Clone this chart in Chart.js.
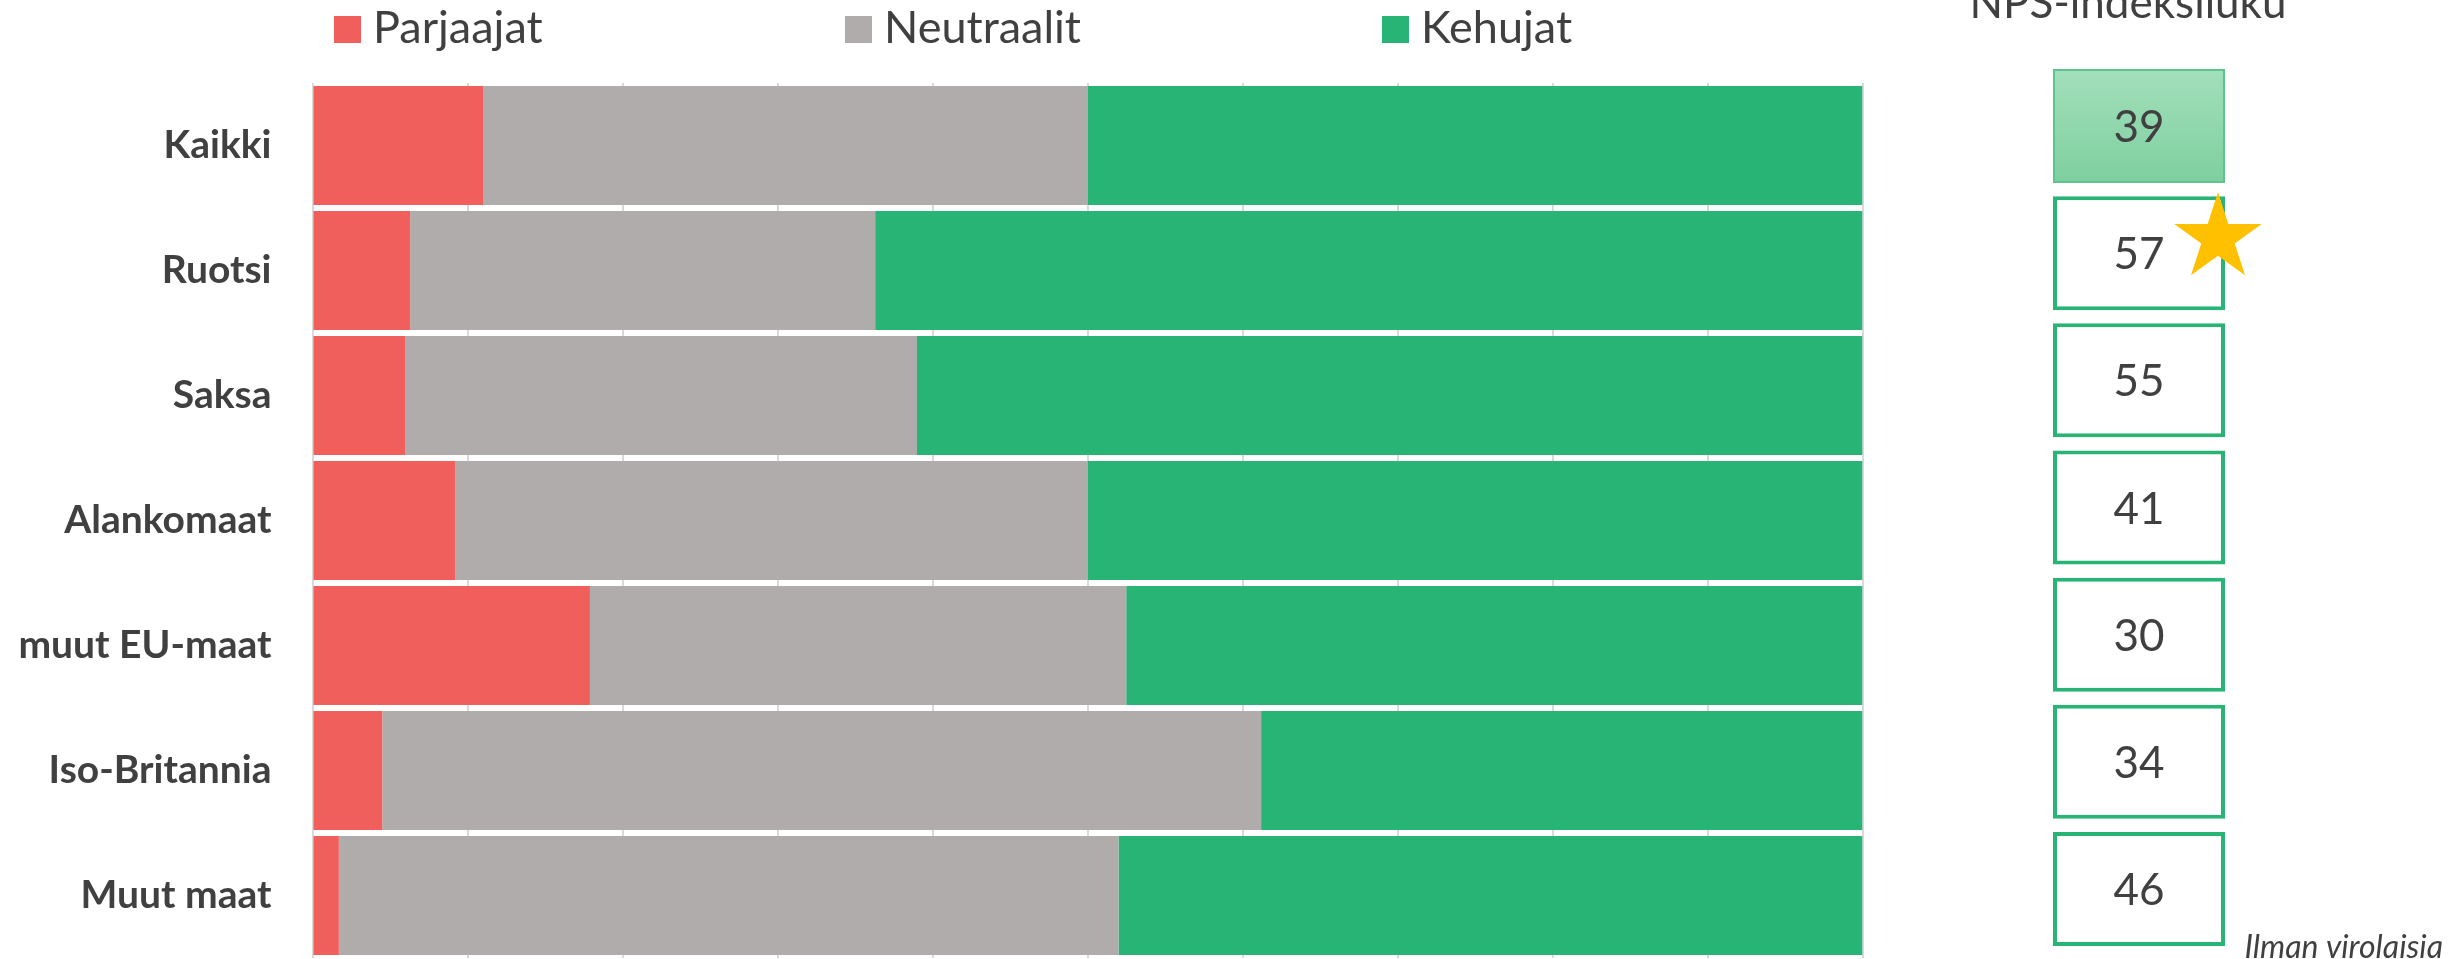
<!DOCTYPE html>
<html lang="fi">
<head>
<meta charset="utf-8">
<title>NPS maittain</title>
<script src="https://cdn.jsdelivr.net/npm/chart.js@4.4.0/dist/chart.umd.min.js"></script>
<style>
    html, body { margin: 0; padding: 0; background: #ffffff; }
    .wrap { display: flex; width: 2450px; height: 959px; }
    #barsBox { position: relative; width: 1900px; height: 959px; }
    #npsBox { position: relative; width: 550px; height: 959px; }
</style>
</head>
<body>
<div class="wrap">
    <div id="barsBox"><canvas id="barsChart"></canvas></div>
    <div id="npsBox"><canvas id="npsChart"></canvas></div>
</div>
<script>
// Vastaajaryhmät ja jakaumat (%)
const categories = ['Kaikki', 'Ruotsi', 'Saksa', 'Alankomaat', 'muut EU-maat', 'Iso-Britannia', 'Muut maat'];
const parjaajat = [11, 6.3, 6, 9.2, 17.9, 4.5, 1.7];
const neutraalit = [39, 30, 33, 40.8, 34.6, 56.7, 50.3];
const kehujat = [50, 63.7, 61, 50, 47.5, 38.8, 48];
const npsValues = [39, 57, 55, 41, 30, 34, 46];
const xTicks = [0, 10, 20, 30, 40, 50, 60, 70, 80, 90, 100];

const TEXT_COLOR = '#404040';
const FONT = 'Lato, "Open Sans", sans-serif';

// Legend drawn along the top, each item at its own x
const topLegend = {
    id: 'topLegend',
    afterDraw(chart, args, opts) {
        const ctx = chart.ctx;
        ctx.save();
        ctx.font = '45px ' + FONT;
        ctx.textBaseline = 'alphabetic';
        ctx.textAlign = 'left';
        chart.data.datasets.forEach((ds, i) => {
            const x = opts.starts[i];
            ctx.fillStyle = ds.backgroundColor;
            ctx.fillRect(x, 16, 27, 27);
            ctx.fillStyle = TEXT_COLOR;
            ctx.fillText(ds.label, x + 39, 43);
        });
        ctx.restore();
    }
};

const barsChart = new Chart(document.getElementById('barsChart'), {
    type: 'bar',
    data: {
        labels: categories,
        datasets: [
            { label: 'Parjaajat', data: parjaajat, backgroundColor: '#F15F5C' },
            { label: 'Neutraalit', data: neutraalit, backgroundColor: '#B0ACAB' },
            { label: 'Kehujat', data: kehujat, backgroundColor: '#27B475' }
        ]
    },
    options: {
        indexAxis: 'y',
        responsive: true,
        maintainAspectRatio: false,
        animation: false,
        layout: { padding: { top: 83, bottom: 1, left: 0, right: 37.5 } },
        datasets: {
            bar: { barPercentage: 0.952, categoryPercentage: 1, borderWidth: 0 }
        },
        plugins: {
            legend: { display: false },
            tooltip: { enabled: false },
            topLegend: { starts: [334, 845, 1382] }
        },
        scales: {
            x: {
                stacked: true,
                min: 0,
                max: 100,
                afterBuildTicks: (scale) => {
                    scale.ticks = xTicks.map(v => ({ value: v }));
                },
                afterFit: (scale) => {
                    scale.height = 0;
                    scale.paddingLeft = 0;
                    scale.paddingRight = 0;
                },
                ticks: { display: false },
                border: { display: false },
                grid: { color: '#D9D9D9', lineWidth: 2, drawTicks: false }
            },
            y: {
                stacked: true,
                afterFit: (scale) => {
                    // fixed gutter for the category names; no extra room above/below
                    scale.width = 312.5;
                    scale.paddingTop = 0;
                    scale.paddingBottom = 0;
                },
                border: { display: false },
                grid: { display: false, drawTicks: false },
                ticks: {
                    padding: 41,
                    color: TEXT_COLOR,
                    font: { family: FONT, size: 39, weight: 'bold' }
                }
            }
        }
    },
    plugins: [topLegend]
});

// NPS index boxes: numbers, heading, star and footnote
function drawStar(ctx, cx, cy, r) {
    const inner = r * 0.382;
    ctx.beginPath();
    for (let i = 0; i < 10; i++) {
        const rad = i % 2 === 0 ? r : inner;
        const a = -Math.PI / 2 + i * Math.PI / 5;
        const px = cx + rad * Math.cos(a);
        const py = cy + rad * Math.sin(a);
        if (i === 0) ctx.moveTo(px, py); else ctx.lineTo(px, py);
    }
    ctx.closePath();
    ctx.fill();
}

const npsDecor = {
    id: 'npsDecor',
    afterDatasetsDraw(chart) {
        const ctx = chart.ctx;
        const meta = chart.getDatasetMeta(0);
        ctx.save();

        ctx.fillStyle = TEXT_COLOR;
        ctx.textAlign = 'center';
        ctx.textBaseline = 'alphabetic';
        ctx.font = '44px ' + FONT;
        meta.data.forEach((bar, i) => {
            const cx = (bar.x + bar.base) / 2;
            ctx.fillText(String(npsValues[i]), cx, bar.y + 16);
        });

        // heading above the boxes
        ctx.font = '44px ' + FONT;
        ctx.fillText('NPS-indeksiluku', 228, 18);

        // star on the best result
        const best = npsValues.indexOf(Math.max(...npsValues));
        const bb = meta.data[best];
        ctx.fillStyle = '#FFC000';
        drawStar(ctx, bb.x - 7, bb.y - 15, 46);

        ctx.fillStyle = TEXT_COLOR;
        ctx.textAlign = 'right';
        ctx.font = 'italic 32px ' + FONT;
        ctx.fillText('Ilman virolaisia', 543, 958);
        ctx.restore();
    }
};

function npsFill(context) {
    if (context.dataIndex !== 0) return '#ffffff';
    const chart = context.chart;
    const yScale = chart.scales.y;
    if (!chart.chartArea || !yScale) return '#90D6AA';
    const cy = yScale.getPixelForValue(0);
    const g = chart.ctx.createLinearGradient(0, cy - 57, 0, cy + 57);
    g.addColorStop(0, '#A3DFBB');
    g.addColorStop(1, '#7ECF9F');
    return g;
}

const npsChart = new Chart(document.getElementById('npsChart'), {
    type: 'bar',
    data: {
        labels: categories,
        datasets: [{
            label: 'NPS',
            data: npsValues.map(() => [0, 1]),
            backgroundColor: npsFill,
            borderColor: (c) => c.dataIndex === 0 ? '#5CC48C' : '#27B475',
            borderWidth: (c) => c.dataIndex === 0 ? 2 : 4,
            borderSkipped: false,
            barPercentage: 0.896,
            categoryPercentage: 1
        }]
    },
    options: {
        indexAxis: 'y',
        responsive: true,
        maintainAspectRatio: false,
        animation: false,
        layout: { padding: { top: 62.4, bottom: 6.4, left: 153, right: 225 } },
        plugins: {
            legend: { display: false },
            tooltip: { enabled: false }
        },
        scales: {
            x: { display: false, min: 0, max: 1 },
            y: { display: false }
        }
    },
    plugins: [npsDecor]
});
</script>
</body>
</html>
